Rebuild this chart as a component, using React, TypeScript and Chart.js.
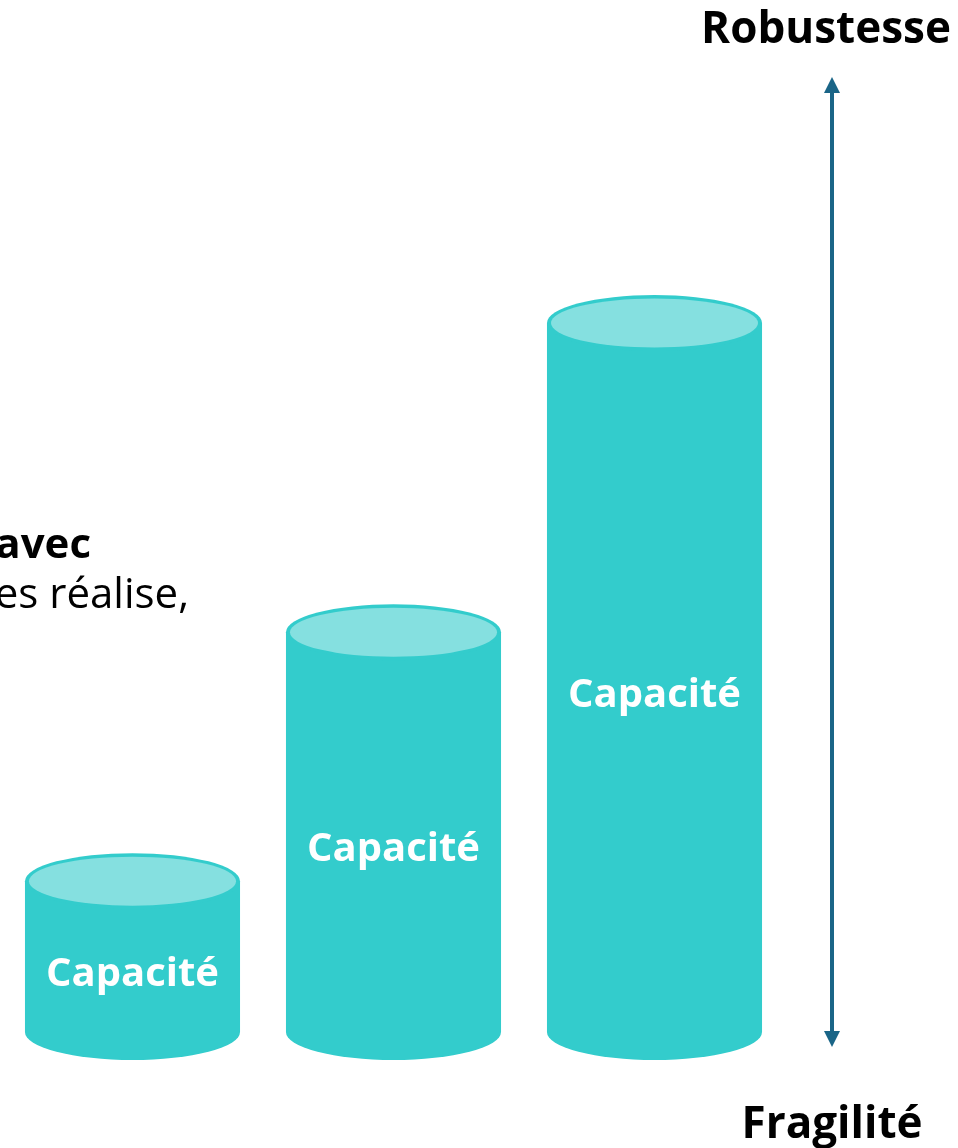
import React, { useEffect, useRef } from "react";
import { Chart, registerables } from "chart.js";

Chart.register(...registerables);

const categories = ["Capacité", "Capacité", "Capacité"];
const capacityValues = [2, 5.3, 9.4];
const axisTopLabel = "Robustesse";
const axisBottomLabel = "Fragilité";
const sideTextBold = "avec";
const sideTextRegular = "es réalise,";

const BODY = "#33CCCC";
const TOP = "#85E0E0";
const ARROW = "#1A6587";
const FONT = '"Open Sans", "Noto Sans", sans-serif';

const cylinderPlugin = {
  id: "cylinders",
  afterDatasetsDraw(chart: any) {
    const ctx = chart.ctx;
    const meta = chart.getDatasetMeta(0);
    const ry = 28;
    meta.data.forEach((bar: any, i: number) => {
      const { x, y, base, width } = bar.getProps(["x", "y", "base", "width"], true);
      const rx = width / 2;
      ctx.save();
      ctx.fillStyle = BODY;
      ctx.beginPath();
      ctx.ellipse(x, base, rx, ry, 0, 0, Math.PI * 2);
      ctx.fill();
      ctx.fillRect(x - rx, y, width, base - y);
      ctx.beginPath();
      ctx.ellipse(x, y, rx, ry, 0, 0, Math.PI * 2);
      ctx.fill();
      ctx.fillStyle = TOP;
      ctx.beginPath();
      ctx.ellipse(x, y, rx - 4, ry - 3.5, 0, 0, Math.PI * 2);
      ctx.fill();
      ctx.fillStyle = "#FFFFFF";
      ctx.font = `bold 40px ${FONT}`;
      ctx.textAlign = "center";
      ctx.textBaseline = "alphabetic";
      const mid = (y + base + ry) / 2;
      ctx.fillText(categories[i], x, mid + 15);
      ctx.restore();
    });

    ctx.save();
    const ax = 832;
    const top = 77;
    const bottom = 1047;
    ctx.strokeStyle = ARROW;
    ctx.fillStyle = ARROW;
    ctx.lineWidth = 4;
    ctx.beginPath();
    ctx.moveTo(ax, top + 14);
    ctx.lineTo(ax, bottom - 14);
    ctx.stroke();
    ctx.beginPath();
    ctx.moveTo(ax, top);
    ctx.lineTo(ax - 8, top + 16);
    ctx.lineTo(ax + 8, top + 16);
    ctx.closePath();
    ctx.fill();
    ctx.beginPath();
    ctx.moveTo(ax, bottom);
    ctx.lineTo(ax - 8, bottom - 16);
    ctx.lineTo(ax + 8, bottom - 16);
    ctx.closePath();
    ctx.fill();

    ctx.fillStyle = "#000000";
    ctx.font = `bold 44px ${FONT}`;
    ctx.textAlign = "center";
    ctx.textBaseline = "alphabetic";
    ctx.fillText(axisTopLabel, 826, 43);
    ctx.fillText(axisBottomLabel, 832, 1138);

    ctx.textAlign = "right";
    ctx.font = `bold 42px ${FONT}`;
    ctx.fillText(sideTextBold, 91, 558);
    ctx.font = `42px ${FONT}`;
    ctx.fillText(sideTextRegular, 189, 608);
    ctx.restore();
  },
};

export default function App() {
  const ref = useRef<HTMLCanvasElement>(null);
  useEffect(() => {
    if (!ref.current) return;
    const chart = new Chart(ref.current, {
      type: "bar",
      data: {
        labels: categories,
        datasets: [
          {
            data: capacityValues,
            backgroundColor: "rgba(0,0,0,0)",
            borderWidth: 0,
            categoryPercentage: 1,
            barPercentage: 0.824,
          },
        ],
      },
      options: {
        responsive: false,
        animation: false,
        layout: { padding: { left: 2, right: 173, top: 127, bottom: 116 } },
        plugins: { legend: { display: false }, tooltip: { enabled: false } },
        scales: {
          x: { display: false },
          y: { display: false, min: 0, max: 12 },
        },
      },
      plugins: [cylinderPlugin],
    });
    return () => chart.destroy();
  }, []);
  return (
    <div style={{ position: "absolute", left: 0, top: 0, width: 958, height: 1148, background: "#fff" }}>
      <canvas ref={ref} width={958} height={1148} style={{ display: "block" }} />
    </div>
  );
}
